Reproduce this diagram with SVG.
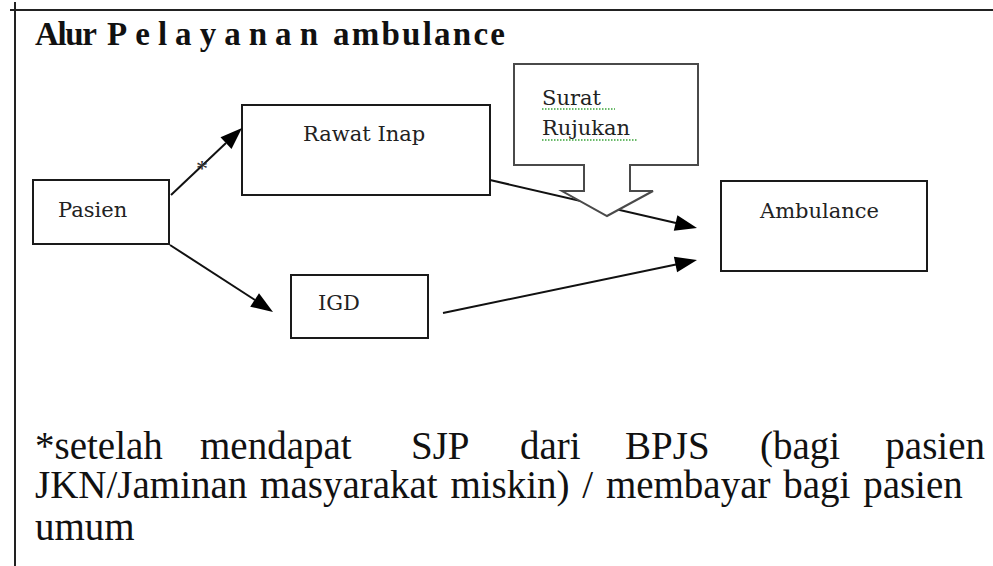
<svg xmlns="http://www.w3.org/2000/svg" width="993" height="566" viewBox="0 0 993 566">
  <rect width="993" height="566" fill="#ffffff"/>
  <line x1="10" y1="10" x2="993" y2="10" stroke="#222" stroke-width="2"/>
  <line x1="15" y1="2" x2="15" y2="566" stroke="#222" stroke-width="2"/>
  <g id="title" font-family="Liberation Serif, serif" font-size="33" font-weight="bold" fill="#111">
    <text x="35" y="45" textLength="62" lengthAdjust="spacing">Alur</text>
    <text x="107" y="45" textLength="211" lengthAdjust="spacing">Pelayanan</text>
    <text x="333" y="45" textLength="172" lengthAdjust="spacing">ambulance</text>
  </g>
  <g id="pasien">
    <rect x="33" y="180" width="136" height="64" fill="#fff" stroke="#1a1a1a" stroke-width="2"/>
    <text x="58" y="217" font-family="DejaVu Serif, serif" font-size="21" fill="#222">Pasien</text>
  </g>
  <g id="rawat-inap">
    <rect x="242" y="105" width="248" height="90" fill="#fff" stroke="#1a1a1a" stroke-width="2"/>
    <text x="303" y="141" font-family="DejaVu Serif, serif" font-size="21" fill="#222">Rawat Inap</text>
  </g>
  <g id="igd">
    <rect x="291" y="275" width="137" height="63" fill="#fff" stroke="#1a1a1a" stroke-width="2"/>
    <text x="318" y="310" font-family="DejaVu Serif, serif" font-size="21" fill="#222">IGD</text>
  </g>
  <g id="ambulance">
    <rect x="721" y="181" width="206" height="90" fill="#fff" stroke="#1a1a1a" stroke-width="2"/>
    <text x="760" y="218" font-family="DejaVu Serif, serif" font-size="21" fill="#222">Ambulance</text>
  </g>
  <g id="connectors">
    <line x1="171" y1="195" x2="226" y2="143" stroke="#111" stroke-width="2"/>
    <polygon points="242,128 231.5,148.9 220.5,137.3" fill="#000"/>
    <line x1="170" y1="245" x2="255" y2="300" stroke="#111" stroke-width="2"/>
    <polygon points="273,312 250.2,306.7 259,293.3" fill="#000"/>
    <line x1="490" y1="180" x2="676" y2="223" stroke="#111" stroke-width="2"/>
    <polygon points="697,228 673.8,230.8 677.4,215.2" fill="#000"/>
    <line x1="443" y1="313" x2="676" y2="264.5" stroke="#111" stroke-width="2"/>
    <polygon points="697,260 677.1,272.3 673.9,256.7" fill="#000"/>
    <text x="202" y="176" text-anchor="middle" font-family="Liberation Serif, serif" font-size="24" fill="#333">*</text>
  </g>
  <g id="surat-rujukan">
    <path d="M514,64 H698 V165 H630 V191 H653 L607,216 L562,191 H584 V165 H514 Z" fill="#ffffff" stroke="#4a4a4a" stroke-width="2"/>
    <text x="542" y="105" font-family="DejaVu Serif, serif" font-size="21" fill="#222">Surat</text>
    <text x="542" y="135" font-family="DejaVu Serif, serif" font-size="21" fill="#222">Rujukan</text>
    <path d="M542,109 H615 M542,140 H637" stroke="#3aa43a" stroke-width="1.3" stroke-dasharray="1.5 1.5" fill="none"/>
  </g>
  <g id="note" font-family="Liberation Serif, serif" font-size="39" fill="#111">
    <text x="35" y="459">*setelah</text>
    <text x="200" y="459">mendapat</text>
    <text x="411" y="459">SJP</text>
    <text x="520" y="459">dari</text>
    <text x="625" y="459">BPJS</text>
    <text x="760" y="459">(bagi</text>
    <text x="985" y="459" text-anchor="end">pasien</text>
    <text x="35" y="498" word-spacing="3">JKN/Jaminan masyarakat miskin) / membayar bagi pasien</text>
    <text x="35" y="540">umum</text>
  </g>
</svg>
